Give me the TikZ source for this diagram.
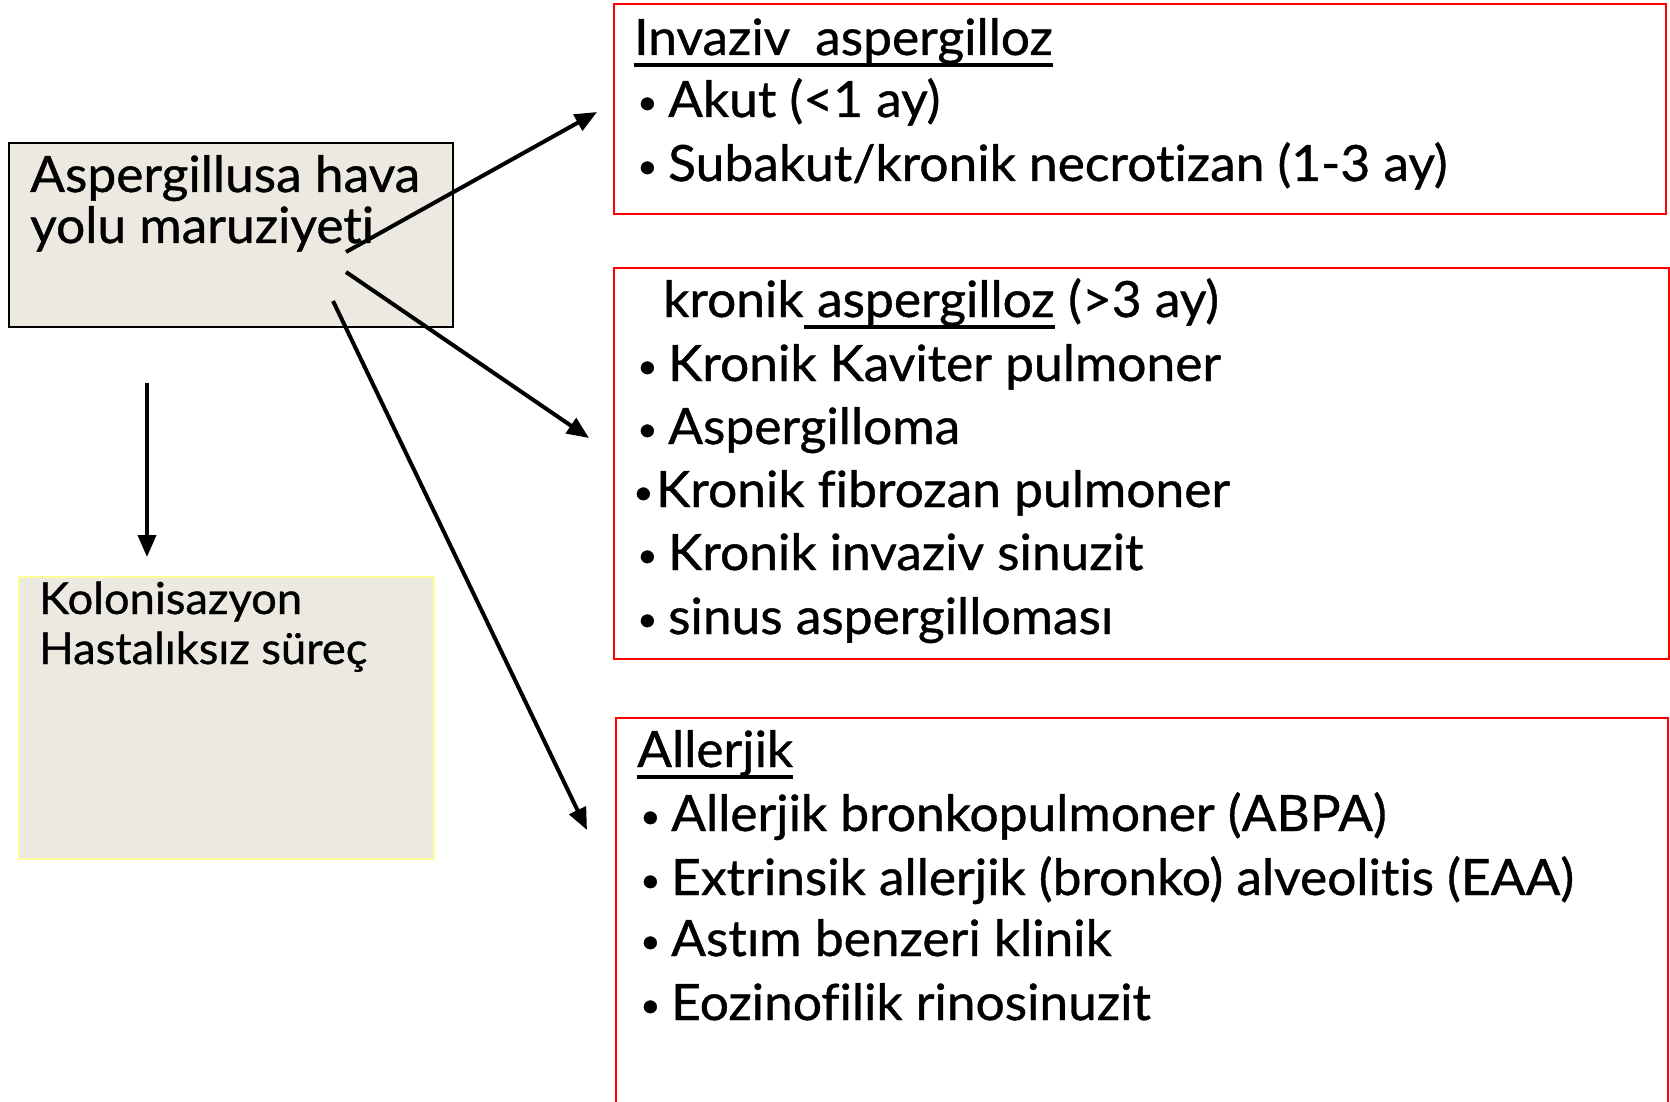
\documentclass[tikz,border=0pt]{standalone}
\usepackage{fontspec}
\setmainfont{Lato}[FakeStretch=1.03,FakeBold=0.8,Ligatures=NoCommon]
\usetikzlibrary{arrows.meta}
\definecolor{boxfill}{HTML}{ECEAE0}
\definecolor{ylw}{HTML}{FFFF99}
\definecolor{redb}{HTML}{FF0000}
\begin{document}
\begin{tikzpicture}[x=1pt,y=-1pt,
  txt/.style={anchor=base west, inner sep=0pt, font=\fontsize{50}{60}\selectfont},
  smalltxt/.style={anchor=base west, inner sep=0pt, font=\fontsize{44}{52}\selectfont},
  bul/.style={anchor=base west, inner sep=0pt, font=\fontsize{34}{40}\selectfont, yshift=3pt},
  arr/.style={line width=4pt, -{Triangle[length=22pt,width=18pt]}},
  uline/.style={line width=3.5pt},
  redbox/.style={draw=redb, line width=2pt, anchor=north west, inner sep=0pt},
  grey/.style={fill=boxfill, line width=2pt, anchor=north west, inner sep=0pt}]
\useasboundingbox (0,0) rectangle (1670,1102);
% left boxes
\node[grey, draw=black, minimum width=444pt, minimum height=184pt] (src) at (8,142) {};
\node[grey, draw=ylw, minimum width=415pt, minimum height=282pt] (col) at (18,576) {};
\node[txt] (s1) at (30,192) {Aspergillusa hava};
\node[txt] (s2) at (30,243) {yolu maruziyeti};
\node[smalltxt] (c1) at (39,614) {Kolonisazyon};
\node[smalltxt] (c2) at (39,664) {Hastalıksız süreç};
% red boxes
\node[redbox, minimum width=1052pt, minimum height=210pt] (r1) at (613,3) {};
\node[redbox, minimum width=1055pt, minimum height=391pt] (r2) at (613,267) {};
\coordinate (r3bl) at (616,1110);
\coordinate (r3tl) at (616,718);
\coordinate (r3tr) at (1668,718);
\coordinate (r3br) at (1668,1110);
\draw[draw=redb, line width=2pt] (r3bl) -- (r3tl) -- (r3tr) -- (r3br);
% box 1 text
\node[txt] (h1) at (634,55) {Invaziv\hspace{0.5em}aspergilloz};
\draw[uline] ([yshift=-10pt]h1.base west) -- ([yshift=-10pt]h1.base east);
\node[bul] (b11) at (637,117) {•};
\node[txt] (t11) at (668,117) {Akut (<1 ay)};
\node[bul] (b12) at (637,181) {•};
\node[txt] (t12) at (668,181) {Subakut/kronik necrotizan (1-3 ay)};
% box 2 text
\node[txt] (h2a) at (663,317) {kronik};
\node[txt] (h2b) at (h2a.base east) {\ aspergilloz};
\node[txt] (h2c) at (h2b.base east) {\ (>3 ay)};
\draw[uline] ([yshift=-10pt]h2b.base west) -- ([yshift=-10pt]h2b.base east);
\node[bul] (b21) at (637,381) {•};
\node[txt] (t21) at (668,381) {Kronik Kaviter pulmoner};
\node[bul] (b22) at (637,444) {•};
\node[txt] (t22) at (668,444) {Aspergilloma};
\node[bul] (b23) at (633,507) {•};
\node[txt] (t23) at (656,507) {Kronik fibrozan pulmoner};
\node[bul] (b24) at (637,570) {•};
\node[txt] (t24) at (668,570) {Kronik invaziv sinuzit};
\node[bul] (b25) at (637,634) {•};
\node[txt] (t25) at (668,634) {sinus aspergilloması};
% box 3 text
\node[txt] (h3) at (637,767) {Allerjik};
\draw[uline] ([yshift=-10pt]h3.base west) -- ([yshift=-10pt]h3.base east);
\node[bul] (b31) at (640,831) {•};
\node[txt] (t31) at (671,831) {Allerjik bronkopulmoner (ABPA)};
\node[bul] (b32) at (640,895) {•};
\node[txt] (t32) at (671,895) {Extrinsik allerjik (bronko) alveolitis (EAA)};
\node[bul] (b33) at (640,956) {•};
\node[txt] (t33) at (671,956) {Astım benzeri klinik};
\node[bul] (b34) at (640,1020) {•};
\node[txt] (t34) at (671,1020) {Eozinofilik rinosinuzit};
% arrows
\coordinate (a1s) at (346,252);
\coordinate (a1e) at (597,112);
\coordinate (a2s) at (346,272);
\coordinate (a2e) at (589,438);
\coordinate (a3s) at (333,301);
\coordinate (a3e) at (587,830);
\coordinate (a4s) at (147,383);
\coordinate (a4e) at (147,557);
\draw[arr] (a1s) -- (a1e);
\draw[arr] (a2s) -- (a2e);
\draw[arr] (a3s) -- (a3e);
\draw[arr] (a4s) -- (a4e);
\end{tikzpicture}
\end{document}
